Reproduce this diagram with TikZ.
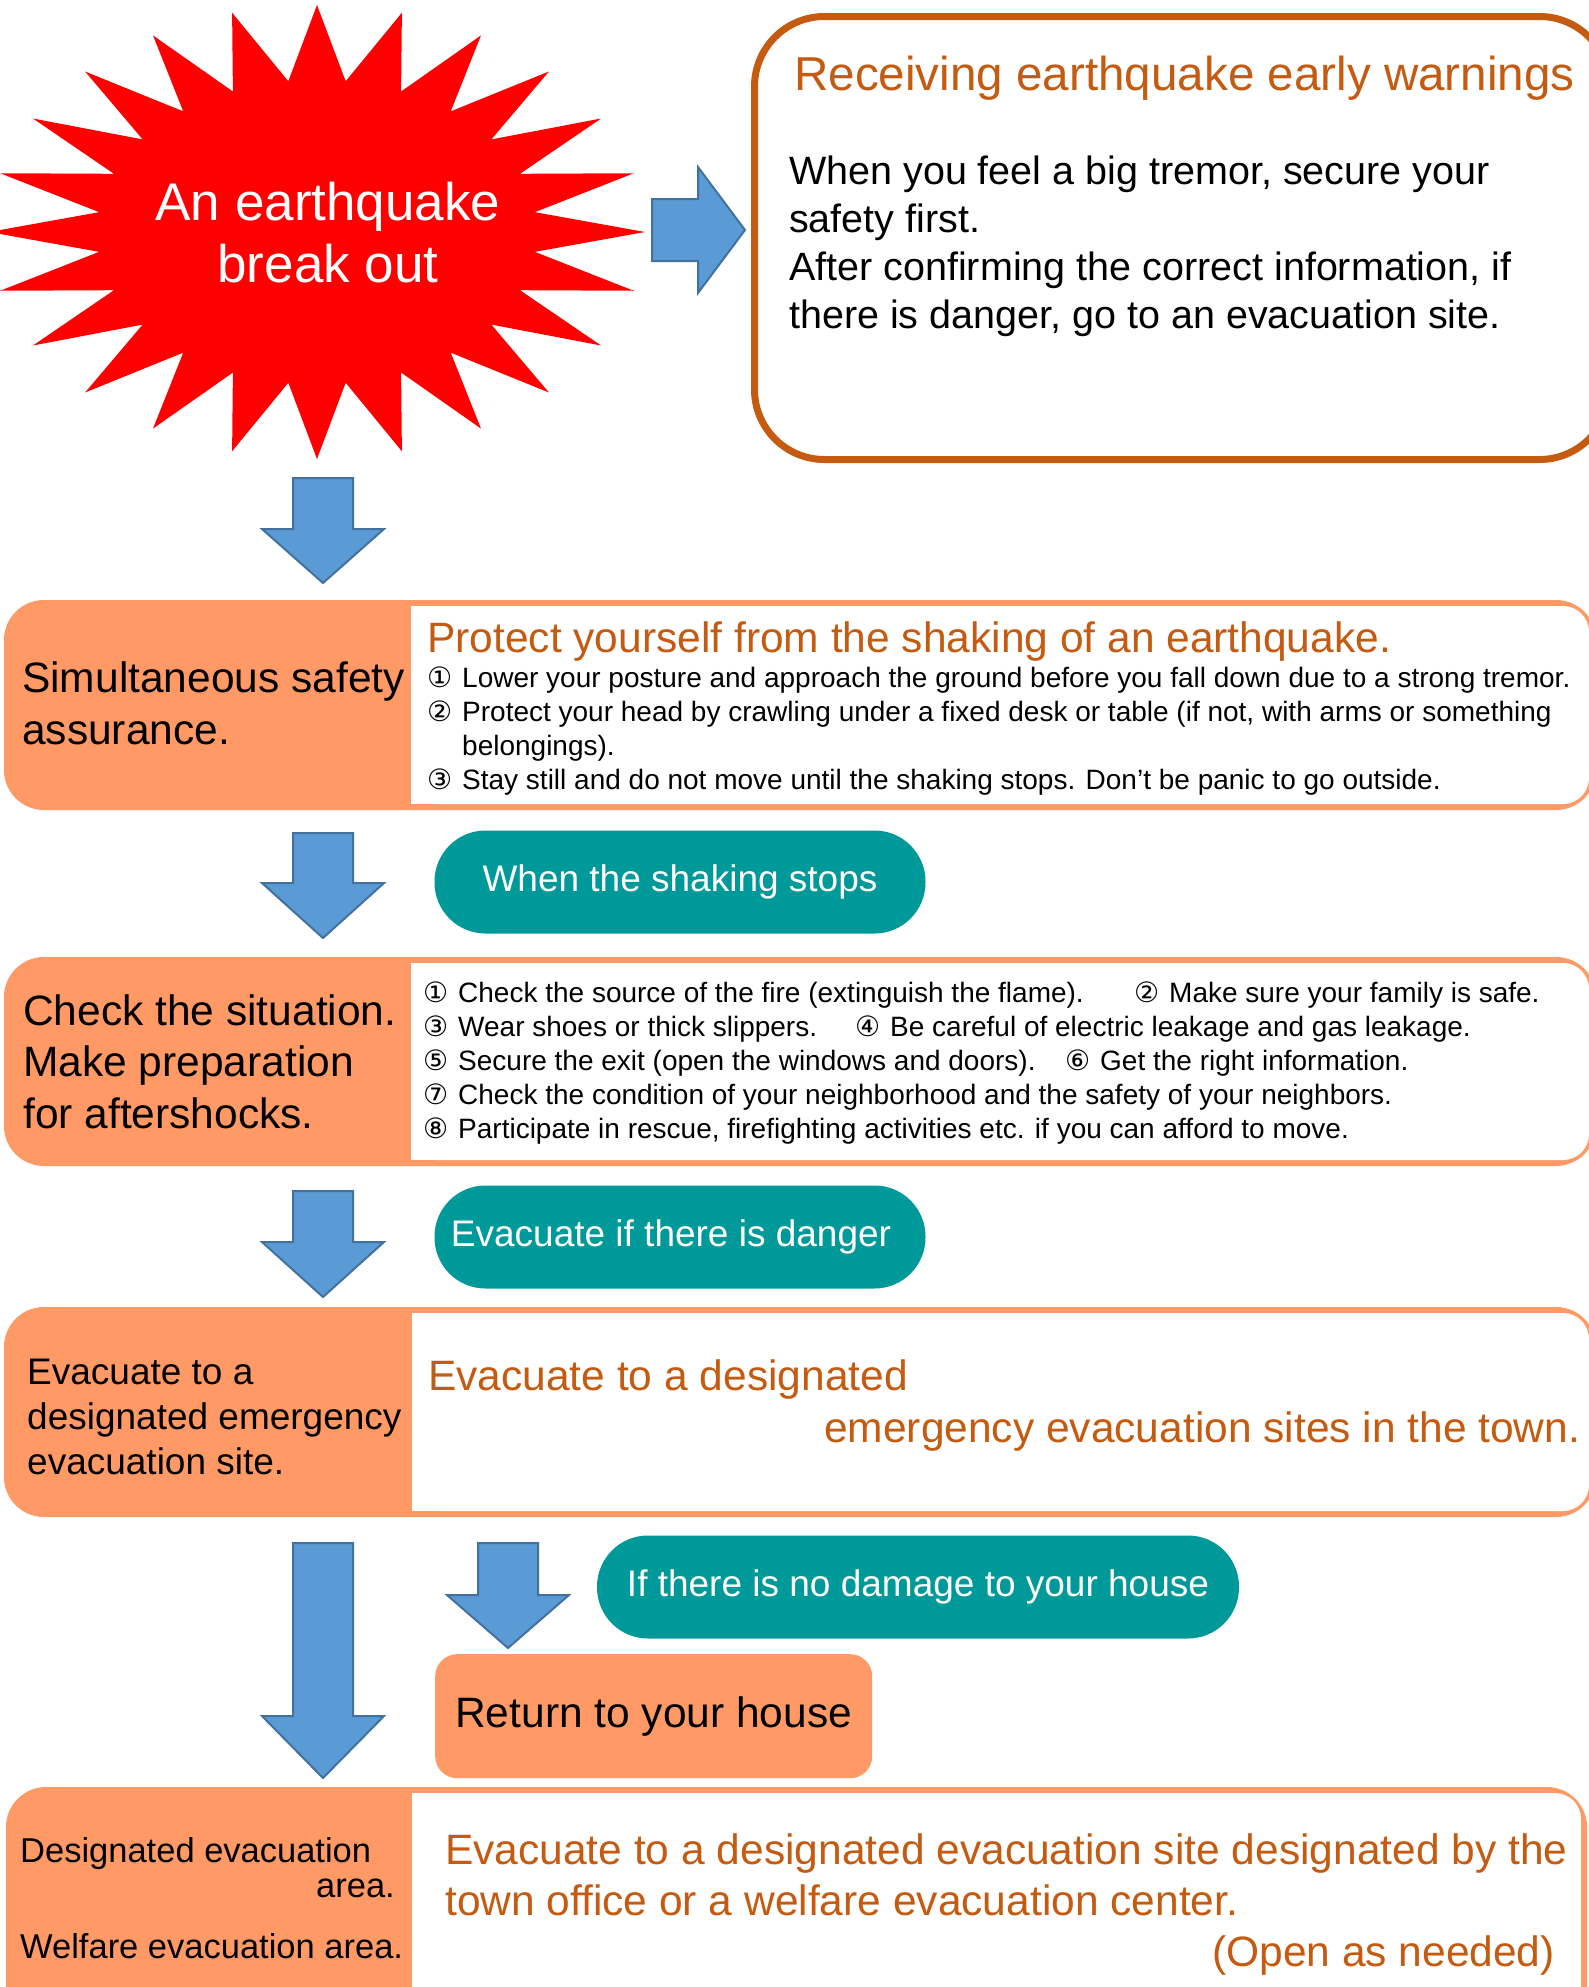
\documentclass[tikz,border=0pt]{standalone}
\usepackage{fontspec}
\setmainfont{Liberation Sans}
\newfontfamily\symfont{DejaVu Sans}
\usepackage{xcolor}
\usetikzlibrary{positioning}

\definecolor{quakered}{RGB}{255,0,0}
\definecolor{arrowblue}{RGB}{91,155,213}
\definecolor{arrowedge}{RGB}{65,113,156}
\definecolor{titleorange}{RGB}{197,90,17}
\definecolor{rowfill}{RGB}{255,153,102}
\definecolor{pillteal}{RGB}{0,153,153}

% circled number with the gap after it
\newcommand{\cnum}[1]{\makebox[35pt][l]{\symfont #1}}
% down arrow: x, top, start of head, tip
\newcommand{\DownArr}[4]{%
  \draw[blockarrow] (#1-30,#2) -- (#1+30,#2) -- (#1+30,#3) -- (#1+61,#3)
    -- (#1,#4) -- (#1-61,#3) -- (#1-30,#3) -- cycle;}

\begin{document}
\begin{tikzpicture}[x=1pt, y=-1pt,
    blockarrow/.style={fill=arrowblue, draw=arrowedge, line width=2pt},
    rowbox/.style={fill=rowfill, rounded corners=40},
    panel/.style={fill=white, rounded corners=26},
    pill/.style={fill=pillteal, text=white, rounded corners=51, inner sep=0,
      font=\fontsize{37}{44}\selectfont},
    lead/.style={inner sep=0, anchor=base west, align=left,
      font=\fontsize{42.5}{51.5}\selectfont},
    headline/.style={inner sep=0, anchor=base west, align=left, text=titleorange,
      font=\fontsize{42.5}{51}\selectfont},
    item/.style={inner sep=0, anchor=base west, align=left,
      font=\fontsize{28}{33.8}\selectfont}]
\useasboundingbox (0,0) rectangle (1588,1987);
% (multi-line texts are placed at the baseline of their last line)

% the starburst
\fill[quakered, shift={(317,232)}] (328,0)
  \foreach \k [evaluate=\k as \rr using {1-0.33*mod(\k,2)}] in {1,...,47}
  { -- ({328*\rr*cos(7.5*\k)},{227*\rr*sin(7.5*\k)}) } -- cycle;
\node[inner sep=0, anchor=base, align=center, text=white,
  font=\fontsize{53}{62}\selectfont] (quake) at (328,282) {An earthquake\\break out};

\draw[blockarrow] (652,199) -- (698,199) -- (698,167) -- (745,230)
  -- (698,293) -- (698,261) -- (652,261) -- cycle;

% early warning box
\node[draw=titleorange, line width=7pt, rounded corners=70, minimum width=855,
  minimum height=443, anchor=north west] (warn) at (751,13) {};
\node[headline, font=\fontsize{47.6}{56}\selectfont] (warntitle) at (794,90)
  {Receiving earthquake early warnings};
\node[lead, font=\fontsize{39.5}{47.7}\selectfont] (warntext) at (789,328)
  {When you feel a big tremor, secure your\\safety first.\\After confirming the correct information, if\\there is danger, go to an evacuation site.};

\DownArr{323}{478}{529}{583}

% row 1
\fill[rowbox] (4,600) rectangle (1596,810);
\fill[panel] (411,606) rectangle (1589,804);
\fill[white] (411,606) rectangle (460,804);
\node[lead] (safe) at (22,744) {Simultaneous safety\\assurance.};
\node[headline] (safetitle) at (427,652) {Protect yourself from the shaking of an earthquake.};
\node[item] (safeitems) at (427,789)
  {\cnum{①}Lower your posture and approach the ground before you fall down due to a strong tremor.\\
   \cnum{②}Protect your head by crawling under a fixed desk or table (if not, with arms or something\\
   \hspace*{35pt}belongings).\\
   \cnum{③}Stay still and do not move until the shaking stops. Don’t be panic to go outside.};

\DownArr{323}{833}{883}{938}
\node[pill, minimum width=491, minimum height=103] (stops) at (680,882) {When the shaking stops};

% row 2
\fill[rowbox] (4,957) rectangle (1596,1166);
\fill[panel] (411,963) rectangle (1589,1160);
\fill[white] (411,963) rectangle (460,1160);
\node[lead] (check) at (23,1128) {Check the situation.\\Make preparation\\for aftershocks.};
\node[item] (checkitems) at (423,1138)
  {\makebox[711pt][l]{\cnum{①}Check the source of the fire (extinguish the flame).}\cnum{②}Make sure your family is safe.\\
   \makebox[432pt][l]{\cnum{③}Wear shoes or thick slippers.}\cnum{④}Be careful of electric leakage and gas leakage.\\
   \makebox[642pt][l]{\cnum{⑤}Secure the exit (open the windows and doors).}\cnum{⑥}Get the right information.\\
   \cnum{⑦}Check the condition of your neighborhood and the safety of your neighbors.\\
   \cnum{⑧}Participate in rescue, firefighting activities etc. if you can afford to move.};

\DownArr{323}{1191}{1242}{1297}
\node[pill, minimum width=491, minimum height=103] (danger) at (680,1237) {Evacuate if there is danger\hspace*{18pt}};

% row 3
\fill[rowbox] (4,1307) rectangle (1596,1517);
\fill[panel] (412,1313) rectangle (1589,1511);
\fill[white] (412,1313) rectangle (460,1511);
\node[lead, font=\fontsize{37}{45}\selectfont] (emerg) at (27,1474)
  {Evacuate to a\\designated emergency\\evacuation site.};
\node[headline] (emergtop) at (428,1390) {Evacuate to a designated};
\node[headline] (emergbot) at (824,1442) {emergency evacuation sites in the town.};

\DownArr{323}{1543}{1716}{1778}
\DownArr{508}{1543}{1595}{1648}
\node[pill, minimum width=642, minimum height=103] (nodamage) at (918,1587) {If there is no damage to your house};
\node[fill=rowfill, rounded corners=22, minimum width=437, minimum height=124,
  inner sep=0, anchor=north west, font=\fontsize{42.5}{51}\selectfont] (home) at (435,1654)
  {Return to your house};

% row 4
\fill[rowbox] (6,1787) rectangle (1587,2030);
\fill[panel] (412,1793) rectangle (1581,2030);
\fill[white] (412,1793) rectangle (460,2030);
\node[lead, font=\fontsize{34.5}{42}\selectfont] (desig) at (20,1862) {Designated evacuation};
\node[lead, anchor=base east, font=\fontsize{34.5}{42}\selectfont] (desigarea) at (395,1897) {area.};
\node[lead, font=\fontsize{34.5}{42}\selectfont] (welfare) at (20,1958) {Welfare evacuation area.};
\node[headline] (sitetext) at (445,1915)
  {Evacuate to a designated evacuation site designated by the\\town office or a welfare evacuation center.};
\node[headline, anchor=base east] (asneeded) at (1555,1966) {(Open as needed)};
\end{tikzpicture}
\end{document}
